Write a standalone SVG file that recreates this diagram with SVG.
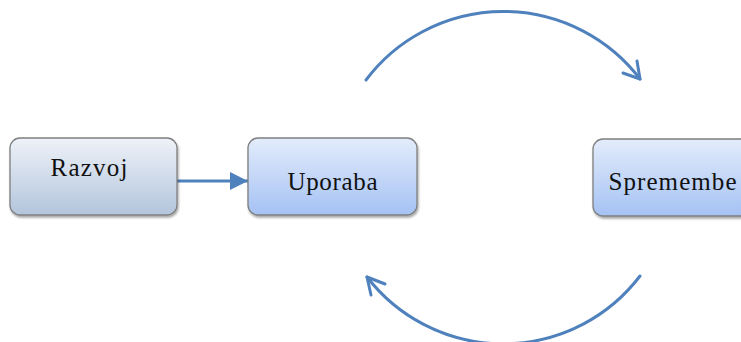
<svg xmlns="http://www.w3.org/2000/svg" width="741" height="342" viewBox="0 0 741 342">
  <defs>
    <linearGradient id="gradGrey" x1="0" y1="0" x2="0" y2="1">
      <stop offset="0" stop-color="#eef2f8"/>
      <stop offset="1" stop-color="#b3c5dc"/>
    </linearGradient>
    <linearGradient id="gradBlue" x1="0" y1="0" x2="0" y2="1">
      <stop offset="0" stop-color="#e3ecfb"/>
      <stop offset="1" stop-color="#a5c2f4"/>
    </linearGradient>
    <filter id="shadow" x="-10%" y="-10%" width="130%" height="140%">
      <feDropShadow dx="1" dy="2" stdDeviation="1.2" flood-color="#000" flood-opacity="0.35"/>
    </filter>
    <marker id="tri" viewBox="0 0 10 10" refX="10" refY="5" markerWidth="6" markerHeight="6" orient="auto" markerUnits="strokeWidth">
      <path d="M0,0 L10,5 L0,10 Z" fill="#4f81bd"/>
    </marker>
  </defs>
  <style>
    .box { stroke: #7f7f7f; stroke-width: 1.3; filter: url(#shadow); }
    .label { font-family: "Liberation Serif", "Times New Roman", serif; font-size: 25px; fill: #111; text-anchor: middle; }
    .conn { fill: none; stroke: #4f81bd; stroke-width: 3; stroke-linecap: round; stroke-linejoin: round; }
  </style>

  <rect width="741" height="342" fill="#ffffff"/>

  <g id="connectors">
    <line class="conn" x1="177" y1="181" x2="248" y2="181" stroke-width="2.2" marker-end="url(#tri)"/>
    <!-- upper arc: Uporaba → Spremembe -->
    <path class="conn" d="M366,80 A172,172 0 0 1 640,79"/>
    <path class="conn" d="M623,73 L640,79 L637,61"/>
    <!-- lower arc: Spremembe → Uporaba -->
    <path class="conn" d="M640,276 A172,172 0 0 1 367,277"/>
    <path class="conn" d="M385,284 L367,277 L371,295"/>
  </g>

  <g id="razvoj">
    <rect class="box" x="10" y="138" width="167" height="77" rx="10" fill="url(#gradGrey)"/>
    <text class="label" x="89" y="176" textLength="77" lengthAdjust="spacing">Razvoj</text>
  </g>

  <g id="uporaba">
    <rect class="box" x="248" y="138" width="169" height="77" rx="10" fill="url(#gradBlue)"/>
    <text class="label" x="332.5" y="190" textLength="90" lengthAdjust="spacing">Uporaba</text>
  </g>

  <g id="spremembe">
    <rect class="box" x="593" y="139" width="169" height="77" rx="10" fill="url(#gradBlue)"/>
    <text class="label" x="672.5" y="190" textLength="128" lengthAdjust="spacing">Spremembe</text>
  </g>
</svg>
